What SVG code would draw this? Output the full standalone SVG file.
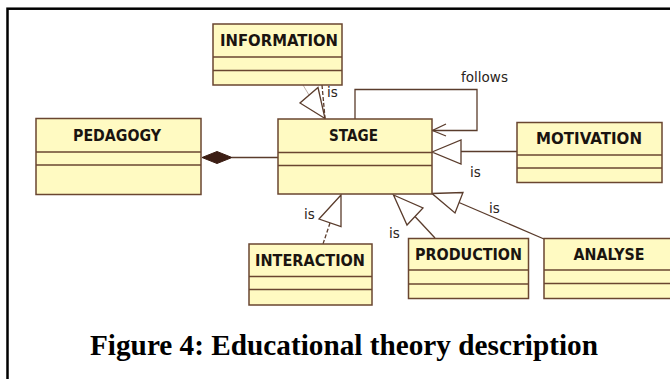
<svg xmlns="http://www.w3.org/2000/svg" width="670" height="379" viewBox="0 0 670 379">
  <style>
    .box { fill: #fffac2; stroke: #6a4630; stroke-width: 1.5; }
    .div { stroke: #6a4630; stroke-width: 1.5; fill: none; }
    .name { font-family: "DejaVu Sans", "Liberation Sans", sans-serif; font-weight: bold; font-size: 16px; fill: #1a1410; }
    .edge { stroke: #5a3c2c; stroke-width: 1.3; fill: none; }
    .tri { stroke: #5a3c2c; stroke-width: 1.3; fill: #ffffff; }
    .lbl { font-family: "DejaVu Sans", "Liberation Sans", sans-serif; font-size: 13.5px; fill: #2a2420; }
    .cap { font-family: "Liberation Serif", "Times New Roman", serif; font-weight: bold; font-size: 29px; fill: #000; }
  </style>

  <rect width="670" height="379" fill="#ffffff"/>
  <!-- outer frame, runs off the right and bottom edges -->
  <rect x="7.5" y="8.7" width="720" height="420" fill="none" stroke="#000" stroke-width="2.5"/>

  <g id="connectors">
    <!-- composition PEDAGOGY <>- STAGE -->
    <line class="edge" x1="232" y1="157.5" x2="278" y2="157.5"/>
    <polygon points="202,157.5 217,151.5 232,157.5 217,163.5" fill="#3c1e14" stroke="#3c1e14" stroke-width="1"/>

    <!-- self association "follows" -->
    <polyline class="edge" points="355,119 355,89.5 477,89.5 477,130.5 432,130.5"/>
    <polyline class="edge" points="446,124 432.5,130.5 446,136"/>
    <text class="lbl" x="461" y="82" textLength="47" lengthAdjust="spacingAndGlyphs">follows</text>

    <!-- INFORMATION is STAGE -->
    <line class="edge" x1="322" y1="85" x2="325" y2="118" stroke-dasharray="4,2"/>
    <line x1="303" y1="85" x2="309" y2="95" stroke="#c0b0a8" stroke-width="1"/>
    <polygon class="tri" points="325,118.5 300,103 318,87.5"/>
    <text class="lbl" x="327" y="97">is</text>

    <!-- MOTIVATION is STAGE -->
    <line class="edge" x1="461" y1="151.5" x2="517" y2="151.5"/>
    <polygon class="tri" points="432,152 461,140 461,164"/>
    <text class="lbl" x="470" y="177">is</text>

    <!-- INTERACTION is STAGE -->
    <line class="edge" x1="330" y1="223" x2="323" y2="244" stroke-dasharray="4,2"/>
    <polygon class="tri" points="341,195 319,219 341,226.5"/>
    <text class="lbl" x="304" y="219">is</text>

    <!-- PRODUCTION is STAGE -->
    <line class="edge" x1="415" y1="216.5" x2="435" y2="238"/>
    <polygon class="tri" points="393.5,195 423,208 407,225"/>
    <text class="lbl" x="389" y="238">is</text>

    <!-- ANALYSE is STAGE -->
    <line class="edge" x1="459" y1="202.5" x2="544" y2="239"/>
    <polygon class="tri" points="432,193.5 463,192.5 455,213"/>
    <text class="lbl" x="489" y="213">is</text>
  </g>

  <g id="information">
    <rect class="box" x="213" y="24" width="129" height="61"/>
    <line class="div" x1="213" y1="57" x2="342" y2="57"/>
    <line class="div" x1="213" y1="70.5" x2="342" y2="70.5"/>
    <text class="name" x="220" y="46" textLength="118" lengthAdjust="spacingAndGlyphs">INFORMATION</text>
  </g>

  <g id="pedagogy">
    <rect class="box" x="36" y="118.5" width="165" height="76"/>
    <line class="div" x1="36" y1="152" x2="201" y2="152"/>
    <line class="div" x1="36" y1="165" x2="201" y2="165"/>
    <text class="name" x="73" y="141" textLength="88" lengthAdjust="spacingAndGlyphs">PEDAGOGY</text>
  </g>

  <g id="stage">
    <rect class="box" x="278" y="119" width="154" height="75"/>
    <line class="div" x1="278" y1="152.5" x2="432" y2="152.5"/>
    <line class="div" x1="278" y1="165.5" x2="432" y2="165.5"/>
    <text class="name" x="329" y="141" textLength="49" lengthAdjust="spacingAndGlyphs">STAGE</text>
  </g>

  <g id="motivation">
    <rect class="box" x="517" y="122.5" width="145" height="60"/>
    <line class="div" x1="517" y1="155" x2="662" y2="155"/>
    <line class="div" x1="517" y1="168" x2="662" y2="168"/>
    <text class="name" x="536" y="144" textLength="106" lengthAdjust="spacingAndGlyphs">MOTIVATION</text>
  </g>

  <g id="interaction">
    <rect class="box" x="249" y="244" width="123" height="61"/>
    <line class="div" x1="249" y1="276.5" x2="372" y2="276.5"/>
    <line class="div" x1="249" y1="289.5" x2="372" y2="289.5"/>
    <text class="name" x="255" y="265.5" textLength="110" lengthAdjust="spacingAndGlyphs">INTERACTION</text>
  </g>

  <g id="production">
    <rect class="box" x="408.5" y="238.5" width="120" height="60"/>
    <line class="div" x1="408.5" y1="270" x2="528.5" y2="270"/>
    <line class="div" x1="408.5" y1="284" x2="528.5" y2="284"/>
    <text class="name" x="415" y="259.5" textLength="107" lengthAdjust="spacingAndGlyphs">PRODUCTION</text>
  </g>

  <g id="analyse">
    <rect class="box" x="544" y="238.5" width="130" height="60"/>
    <line class="div" x1="544" y1="270" x2="674" y2="270"/>
    <line class="div" x1="544" y1="283.5" x2="674" y2="283.5"/>
    <text class="name" x="573.5" y="259.5" textLength="71" lengthAdjust="spacingAndGlyphs">ANALYSE</text>
  </g>

  <text class="cap" x="90" y="355" textLength="508" lengthAdjust="spacingAndGlyphs">Figure 4: Educational theory description</text>
</svg>
